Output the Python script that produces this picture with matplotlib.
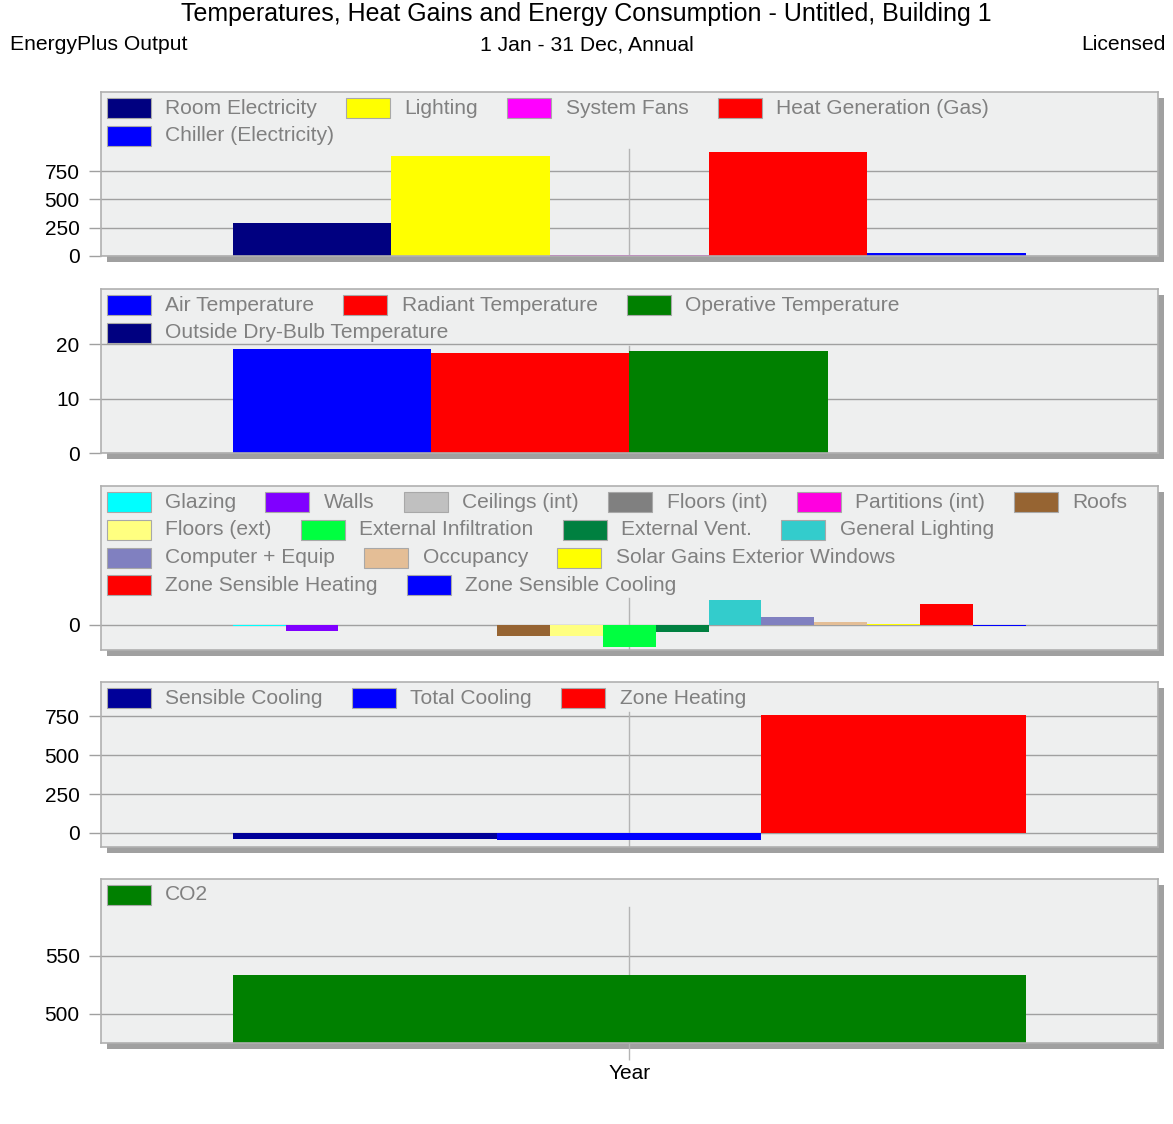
import numpy as np
import matplotlib
matplotlib.use("Agg")
import matplotlib.pyplot as plt
import matplotlib.transforms as mtransforms
from matplotlib.patches import Rectangle
from matplotlib.offsetbox import AnchoredOffsetbox, DrawingArea, TextArea, HPacker, VPacker

plt.rcParams['font.family'] = ['Liberation Sans', 'DejaVu Sans']

# ---- data ----
energy_labels = ['Room Electricity', 'Lighting', 'System Fans', 'Heat Generation (Gas)',
                 'Chiller (Electricity)']
energy_values = [292, 880, 6, 918, 30]
energy_colors = ['#000080', '#ffff00', '#ff00ff', '#ff0000', '#0000ff']

temp_labels = ['Air Temperature', 'Radiant Temperature', 'Operative Temperature',
               'Outside Dry-Bulb Temperature']
temp_values = [19.1, 18.5, 18.7, 0.0]
temp_colors = ['#0000ff', '#ff0000', '#008000', '#000080']

gain_labels = ['Glazing', 'Walls', 'Ceilings (int)', 'Floors (int)', 'Partitions (int)', 'Roofs',
               'Floors (ext)', 'External Infiltration', 'External Vent.', 'General Lighting',
               'Computer + Equip', 'Occupancy', 'Solar Gains Exterior Windows',
               'Zone Sensible Heating', 'Zone Sensible Cooling']
gain_values = [-36, -225, 0, 0, 0, -405, -405, -800, -262, 895, 286, 107, 47, 752, -47]
gain_colors = ['#00ffff', '#8000ff', '#c0c0c0', '#808080', '#ff00e0', '#966432',
               '#ffff80', '#00ff40', '#008040', '#33cccc', '#8080c0', '#e4be96', '#ffff00',
               '#ff0000', '#0000ff']

load_labels = ['Sensible Cooling', 'Total Cooling', 'Zone Heating']
load_values = [-41, -48, 755]
load_colors = ['#000099', '#0000ff', '#ff0000']

co2_labels = ['CO2']
co2_values = [533.5]
co2_colors = ['#008000']

x_label = 'Year'

panels = [
    (energy_labels, energy_values, energy_colors, [4, 1], (0, 1450), [0, 250, 500, 750], 0.655),
    (temp_labels, temp_values, temp_colors, [3, 1], (0, 30.2), [0, 10, 20], 0.655),
    (gain_labels, gain_values, gain_colors, [6, 4, 3, 2], (-895, 4976), [0], 0.317),
    (load_labels, load_values, load_colors, [3], (-90, 970), [0, 250, 500, 750], 0.82),
    (co2_labels, co2_values, co2_colors, [1], (475, 616), [500, 550], 0.83),
]

W, H = 1173, 1124
fig = plt.figure(figsize=(W / 100, H / 100), dpi=100)
fig.patch.set_facecolor('white')

fig.text(586 / W, 1 - 14 / H, 'Temperatures, Heat Gains and Energy Consumption - Untitled, Building 1',
         ha='center', va='center', fontsize=18)
fig.text(10 / W, 1 - 45 / H, 'EnergyPlus Output', ha='left', va='center', fontsize=15.2)
fig.text(587 / W, 1 - 45 / H, '1 Jan - 31 Dec, Annual', ha='center', va='center', fontsize=15.2)
fig.text(1166 / W, 1 - 45 / H, 'Licensed', ha='right', va='center', fontsize=15.2)

left, width = 100.5, 1057.5
tops = [92, 289, 486, 682, 879]
heights = [164, 164, 164, 165, 164]
grid_c = '#a0a0a0'


def flow_legend(ax, labels, colors, rows):
    pw, ph = 44 * 0.72, 20 * 0.72
    row_boxes = []
    i = 0
    for n in rows:
        items = []
        for lab, col in zip(labels[i:i + n], colors[i:i + n]):
            da = DrawingArea(pw, ph, 0, 0)
            da.add_artist(Rectangle((0, 0), pw, ph, fc=col, ec='#a8a8a8', lw=0.8))
            ta = TextArea(lab, textprops=dict(color='#808080', fontsize=15.1))
            items.append(HPacker(children=[da, ta], pad=0, sep=10.5, align='center'))
        i += n
        row_boxes.append(HPacker(children=items, pad=0, sep=21.0, align='center'))
    box = VPacker(children=row_boxes, pad=0, sep=5.6, align='left')
    tr = mtransforms.offset_copy(ax.transAxes, fig=fig, x=6, y=-6, units='dots')
    ab = AnchoredOffsetbox(loc='upper left', child=box, pad=0, borderpad=0, frameon=False,
                           bbox_to_anchor=(0, 1), bbox_transform=tr)
    ax.add_artist(ab)


for k, (labels, values, colors, rows, ylim, yticks, vtop) in enumerate(panels):
    top, h = tops[k], heights[k]
    rect = [left / W, 1 - (top + h) / H, width / W, h / H]
    # drop shadow
    fig.add_artist(Rectangle((rect[0] + 6 / W, rect[1] - 6 / H), rect[2], rect[3],
                             transform=fig.transFigure, fc='#a0a0a0', ec='none', zorder=0))
    ax = fig.add_axes(rect, zorder=1)
    ax.set_facecolor('#eeefef')
    n = len(values)
    w = 0.75 / n
    xs = -0.375 + w * (np.arange(n) + 0.5)
    ax.bar(xs, values, width=w, color=colors, edgecolor='none', zorder=2)
    ax.set_xlim(-0.5, 0.5)
    ax.set_ylim(*ylim)
    ax.set_yticks(yticks)
    ax.set_yticklabels([str(t) for t in yticks])
    for t in yticks:
        ax.axhline(t, color=grid_c, lw=1, zorder=1)
    ax.axvline(0, ymin=0, ymax=vtop, color='#b4b4b4', lw=1, zorder=1)
    ax.tick_params(axis='y', length=9, width=1, color=grid_c, pad=6, labelsize=15)
    if k == len(panels) - 1:
        ax.set_xticks([0])
        ax.set_xticklabels([x_label])
        ax.tick_params(axis='x', length=12, width=1, color='#b4b4b4', pad=3, labelsize=15)
    else:
        ax.set_xticks([])
    for s in ax.spines.values():
        s.set_color('#b0b0b0')
        s.set_linewidth(1.2)
    flow_legend(ax, labels, colors, rows)

fig.savefig('out.png', dpi=100)
